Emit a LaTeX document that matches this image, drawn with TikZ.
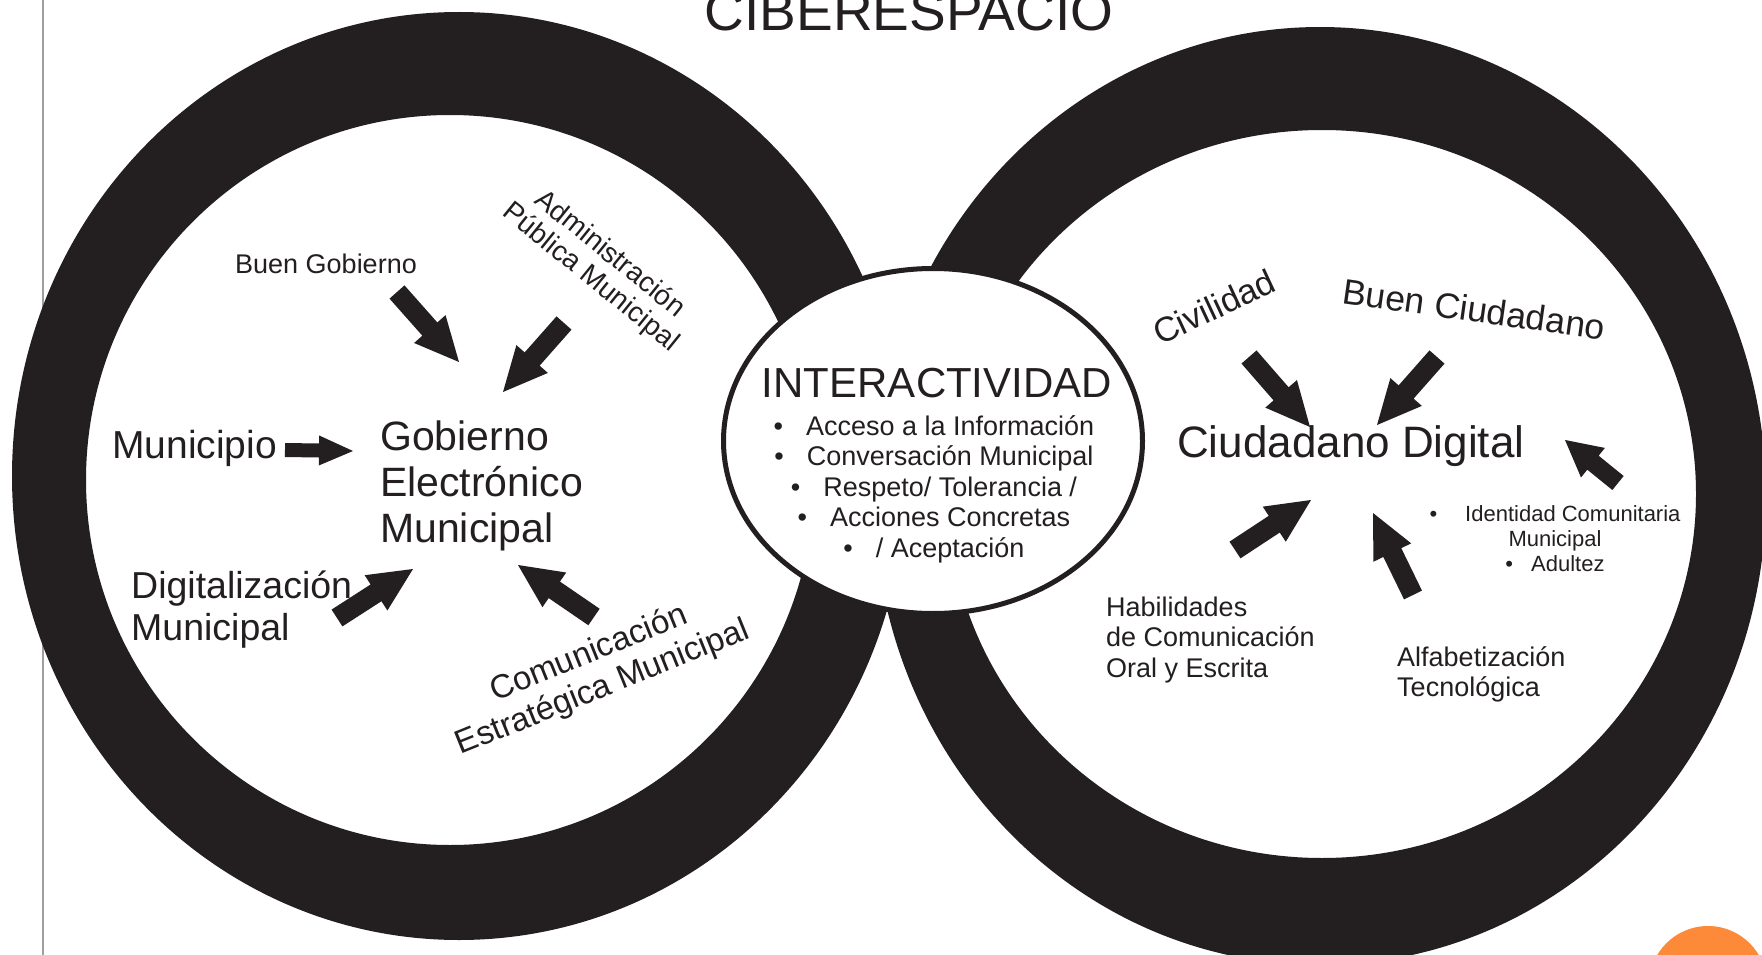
\documentclass[tikz,border=0pt]{standalone}
\usepackage{fontspec}
\setmainfont{Liberation Sans}
\usetikzlibrary{calc}
\definecolor{ink}{HTML}{231F20}
\definecolor{orangedot}{RGB}{253,138,57}
\newcommand\fs[2]{\fontsize{#1}{#2}\selectfont}
% block arrow: tail, tip, shaft half-width, head half-width, head length
\newcommand\barrow[5]{%
  \coordinate (bA) at ($(#2)!#5!(#1)$);
  \fill[ink] ($(#1)!#3!90:(#2)$) -- ($(bA)!#3!90:(#2)$) -- ($(bA)!#4!90:(#2)$) -- (#2)
    -- ($(bA)!#4!-90:(#2)$) -- ($(bA)!#3!-90:(#2)$) -- ($(#1)!#3!-90:(#2)$) -- cycle;}
\begin{document}
\begin{tikzpicture}[x=1pt,y=-1pt,
  every node/.style={inner sep=0pt, text=ink},
  ring/.style={fill=ink, even odd rule}]
\useasboundingbox (0,0) rectangle (1762,955);
\clip (0,0) rectangle (1762,955);
\fill[white] (0,0) rectangle (1762,955);
% thin slide margin line
\draw[gray!75, line width=1.6pt] (43,-5) -- (43,960);
% rings
\path[ring] (459,476) ellipse [x radius=447pt, y radius=464pt]
            (450,480) ellipse [x radius=364pt, y radius=365pt];
\path[ring] (1320,496) ellipse [x radius=446pt, y radius=469pt]
            (1322,494) ellipse [x radius=374pt, y radius=364pt];
% center ellipse
\draw[ink, fill=white, line width=5pt] (933,441) ellipse [x radius=209.5pt, y radius=172.5pt];
% orange dot
\fill[orangedot] (1708,985) circle [radius=59pt];
% title
\node[font=\fs{55}{62}, anchor=base] (title) at (909,31) {CIBERESPACIO};
% left ring texts
\node[font=\fs{27}{31}, anchor=base west] (buengob) at (235,273) {Buen Gobierno};
\node[font=\fs{28}{30}, align=center, rotate=-39] (admin) at (600,266) {Administración\\Pública Municipal};
\node[font=\fs{39}{45}, anchor=base west] (municipio) at (112,458) {Municipio};
\node[font=\fs{41}{46}, align=left, anchor=west] (gem) at (380,486) {Gobierno\\Electrónico\\Municipal};
\node[font=\fs{37.5}{42}, align=left, anchor=west] (digit) at (131,610) {Digitalización\\Municipal};
\node[font=\fs{33}{37}, align=center, rotate=22] (comun) at (596,671) {Comunicación\\Estratégica Municipal};
% center texts
\node[font=\fs{42}{48}, anchor=base] (inter) at (937,397) {INTERACTIVIDAD};
\node[font=\fs{27}{30.5}, align=center] (interlist) at (934,489)
  {•\hspace{23pt}Acceso a la Información\\
   •\hspace{23pt}Conversación Municipal\\
   •\hspace{23pt}Respeto/ Tolerancia /\\
   •\hspace{23pt}Acciones Concretas\\
   •\hspace{23pt}/ Aceptación};
% right ring texts
\node[font=\fs{34.5}{40}, rotate=25] (civ) at (1214,307) {Civilidad};
\node[font=\fs{35.5}{40}, rotate=-8] (buenciu) at (1474,309) {Buen Ciudadano};
\node[font=\fs{44}{50}, anchor=base west] (cd) at (1177,457) {Ciudadano Digital};
\node[font=\fs{22}{25}, align=center] (ident) at (1555,539)
  {•\hspace{28pt}Identidad Comunitaria\\Municipal\\•\hspace{18pt}Adultez};
\node[font=\fs{27}{30.5}, align=left, anchor=west] (habil) at (1106,640) {Habilidades\\de Comunicación\\Oral y Escrita};
\node[font=\fs{27}{30}, align=left, anchor=west] (alfa) at (1397,674) {Alfabetización\\Tecnológica};
% arrow end points
\coordinate (a1t) at (397,292);  \coordinate (a1h) at (459,362);
\coordinate (a2t) at (564,323);  \coordinate (a2h) at (503,392);
\coordinate (a3t) at (285,450);  \coordinate (a3h) at (353,451);
\coordinate (a4t) at (337,618);  \coordinate (a4h) at (413,569);
\coordinate (a5t) at (594,617);  \coordinate (a5h) at (518,565);
\coordinate (b1t) at (1249,357); \coordinate (b1h) at (1310,427);
\coordinate (b2t) at (1437,357); \coordinate (b2h) at (1377,425);
\coordinate (b3t) at (1618,483); \coordinate (b3h) at (1565,440);
\coordinate (b4t) at (1235,550); \coordinate (b4h) at (1311,500);
\coordinate (b5t) at (1413,595); \coordinate (b5h) at (1373,513);
% arrows
\barrow{a1t}{a1h}{10pt}{21pt}{44pt}
\barrow{a2t}{a2h}{10pt}{21pt}{44pt}
\barrow{a3t}{a3h}{7pt}{15pt}{34pt}
\barrow{a4t}{a4h}{10pt}{21pt}{44pt}
\barrow{a5t}{a5h}{10pt}{21pt}{44pt}
\barrow{b1t}{b1h}{10pt}{21pt}{44pt}
\barrow{b2t}{b2h}{10pt}{21pt}{44pt}
\barrow{b3t}{b3h}{9pt}{19pt}{36pt}
\barrow{b4t}{b4h}{10pt}{21pt}{44pt}
\barrow{b5t}{b5h}{10pt}{21pt}{44pt}
\end{tikzpicture}
\end{document}
